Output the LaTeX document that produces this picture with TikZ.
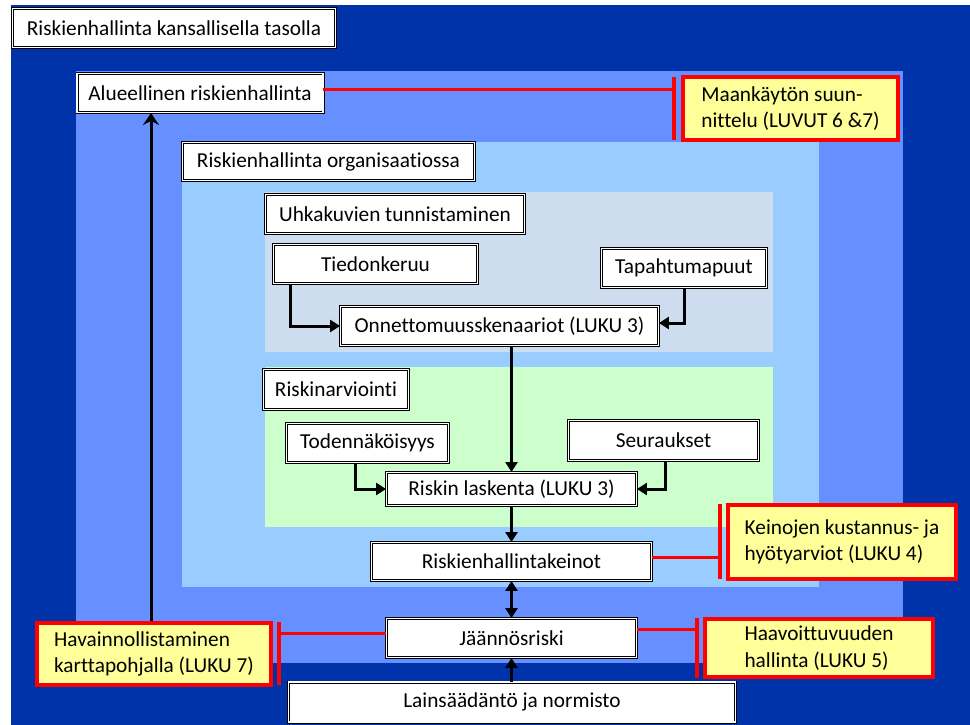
\documentclass[tikz,border=0pt]{standalone}
\usepackage{fontspec}
\setmainfont{Carlito}[Ligatures={NoCommon}]
\usetikzlibrary{arrows.meta}
\definecolor{dkblue}{HTML}{0033AA}
\definecolor{mdblue}{HTML}{6690FF}
\definecolor{ltblue}{HTML}{99CCFF}
\definecolor{gyblue}{HTML}{CDDCEE}
\definecolor{ltgreen}{HTML}{CCFFCC}
\definecolor{ylw}{HTML}{FFFF99}
\tikzset{
  wbox/.style={draw=black, line width=0.9pt, double=white, double distance=1.2pt,
    fill=white, rectangle, inner sep=0pt, font=\fontsize{21.3}{25}\selectfont},
  ybox/.style={draw=red, line width=4pt, fill=ylw, rectangle, inner sep=0pt,
    align=left, font=\fontsize{21.3}{26.5}\selectfont},
  arr/.style={draw=black, line width=3pt, -{Triangle[length=10pt,width=12pt]}},
  darr/.style={draw=black, line width=3pt, {Triangle[length=10pt,width=12pt]}-{Triangle[length=10pt,width=12pt]}},
  redline/.style={draw=red, line width=3pt},
  redbar/.style={draw=red, line width=4pt}
}
\begin{document}
\begin{tikzpicture}[x=1pt,y=-1pt]
\useasboundingbox (0,0) rectangle (970,725);
\fill[white] (0,0) rectangle (970,725);
% panels
\fill[dkblue] (11,5) rectangle (970,725);
\fill[mdblue] (76,71) rectangle (903,663);
\fill[ltblue] (182,142) rectangle (819,587);
\fill[gyblue] (265,192) rectangle (773,352);
\fill[ltgreen] (265,367) rectangle (773,527);

% white boxes
\node[wbox, minimum width=323pt, minimum height=39pt] (title) at (174,28) {Riskienhallinta kansallisella tasolla};
\node[wbox, minimum width=246pt, minimum height=39pt] (alue) at (200,93) {Alueellinen riskienhallinta};
\node[wbox, minimum width=292pt, minimum height=38pt] (org) at (328.5,161.5) {Riskienhallinta organisaatiossa};
\node[wbox, minimum width=259pt, minimum height=39pt] (uhka) at (395,214) {Uhkakuvien tunnistaminen};
\node[wbox, minimum width=204pt, minimum height=39pt] (tied) at (375.5,264) {Tiedonkeruu};
\node[wbox, minimum width=165pt, minimum height=39pt] (tap) at (684,268) {Tapahtumapuut};
\node[wbox, minimum width=318pt, minimum height=39pt] (onn) at (499.5,326) {Onnettomuusskenaariot (LUKU 3)};
\node[wbox, minimum width=145pt, minimum height=40pt] (arvi) at (336,389.5) {Riskinarviointi};
\node[wbox, minimum width=162pt, minimum height=39pt] (todn) at (367.5,443) {Todennäköisyys};
\node[wbox, minimum width=190pt, minimum height=40pt] (seur) at (663.5,440.5) {Seuraukset};
\node[wbox, minimum width=250pt, minimum height=33pt] (risk) at (511.5,489) {Riskin laskenta (LUKU 3)};
\node[wbox, minimum width=280pt, minimum height=38pt] (keino) at (511.5,561.5) {Riskienhallintakeinot};
\node[wbox, minimum width=250pt, minimum height=39pt] (jaan) at (511.5,638) {Jäännösriski};
\node[wbox, minimum width=447pt, minimum height=40pt] (lain) at (512,702) {Lainsäädäntö ja normisto};

% yellow boxes
\node[ybox, minimum width=215pt, minimum height=63pt] (maan) at (790.5,108.5) {Maankäytön suun-\\nittelu (LUVUT 6 \&7)};
\node[ybox, minimum width=228pt, minimum height=74pt] (kust) at (842,542) {Keinojen kustannus- ja\\hyötyarviot (LUKU 4)};
\node[ybox, minimum width=228pt, minimum height=58pt] (haav) at (819,648) {Haavoittuvuuden\\hallinta (LUKU 5)};
\node[ybox, minimum width=234pt, minimum height=62pt] (havn) at (154,654) {Havainnollistaminen\\karttapohjalla (LUKU 7)};

% red tee connectors
\coordinate (t1) at (674,90);
\coordinate (t1a) at (674,77);
\coordinate (t1b) at (674,140);
\draw[redline] ([yshift=3pt]alue.east) -- (t1);
\draw[redbar] (t1a) -- (t1b);

\coordinate (t2) at (720,557);
\coordinate (t2a) at (720,504);
\coordinate (t2b) at (720,579);
\draw[redline] ([yshift=4.5pt]keino.east) -- (t2);
\draw[redbar] (t2a) -- (t2b);

\coordinate (t3) at (697,629);
\coordinate (t3a) at (697,618);
\coordinate (t3b) at (697,678);
\draw[redline] ([yshift=9pt]jaan.east) -- (t3);
\draw[redbar] (t3a) -- (t3b);

\coordinate (t4) at (279,633);
\coordinate (t4a) at (279,622);
\coordinate (t4b) at (279,685);
\draw[redline] ([yshift=5pt]jaan.west) -- (t4);
\draw[redbar] (t4a) -- (t4b);

% black arrows
\coordinate (ax) at (151,0);
\draw[draw=black, line width=3pt, -{Stealth[length=12pt,width=16pt,inset=4pt]}] (havn.north -| ax) -- (alue.south -| ax);
\draw[arr] ([xshift=17pt]tied.south west) |- (onn.west);
\draw[arr] (tap.south) |- ([yshift=3pt]onn.east);
\draw[arr] (onn.south -| risk.north) -- (risk.north);
\draw[arr] ([xshift=-12pt]todn.south) |- (risk.west);
\draw[arr] ([xshift=1.5pt]seur.south) |- (risk.east);
\draw[arr] (risk.south) -- (keino.north);
\draw[darr] (keino.south) -- (jaan.north);
\draw[arr] (lain.north -| jaan.south) -- (jaan.south);
\end{tikzpicture}
\end{document}
